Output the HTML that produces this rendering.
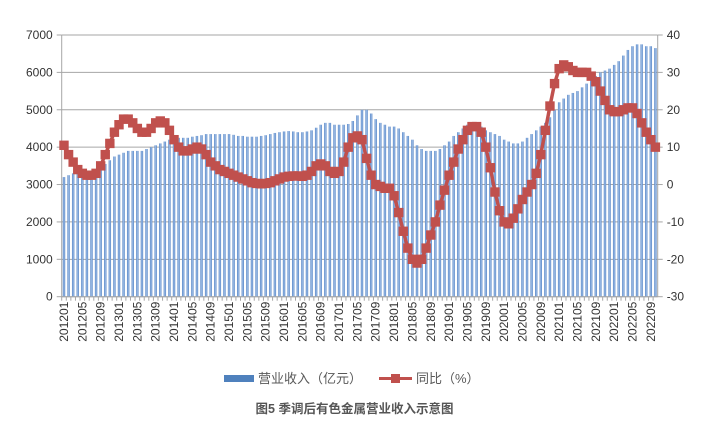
<!DOCTYPE html>
<html><head><meta charset="utf-8"><style>
body{margin:0;background:#fff;}
svg{display:block;font-family:"Liberation Sans","Noto Sans CJK SC",sans-serif;}
</style></head><body>
<svg id="c" width="701" height="428" viewBox="0 0 701 428"></svg>
<script>
const revenue=[3200,3250,3300,3300,3300,3350,3350,3400,3450,3550,3650,3750,
3800,3850,3900,3900,3900,3900,3950,4000,4050,4100,4150,4200,
4250,4250,4250,4250,4280,4300,4320,4350,4350,4350,4350,4350,
4350,4330,4300,4300,4280,4280,4280,4300,4320,4350,4380,4400,
4420,4430,4420,4400,4400,4420,4450,4520,4600,4650,4650,4600,
4600,4600,4620,4700,4850,5000,5000,4900,4750,4650,4600,4550,
4550,4500,4400,4300,4200,4050,3950,3900,3900,3900,3950,4050,
4150,4300,4400,4500,4600,4600,4600,4550,4450,4400,4350,4300,
4200,4150,4100,4100,4150,4250,4350,4450,4550,4650,4800,5000,
5200,5300,5400,5450,5500,5600,5700,5800,5900,6000,6050,6100,
6200,6300,6450,6600,6700,6750,6750,6700,6700,6650];
const yoy=[10.5,8,6,4,3,2.5,2.5,3,5,8,11,14,
16,17.5,17.5,16.5,15,14,14,15,16.5,17,16.5,14.5,
12,10,9,9,9.5,10,9.5,8,6,5,4,3.5,
3,2.5,2,1.5,1,0.5,0.3,0.2,0.3,0.5,1,1.5,
2,2.2,2.3,2.3,2.2,2.5,3.5,5,5.5,5,3.5,3,
3.5,6,10,12.5,13,12,7,2.5,0,-0.5,-1,-1,
-3,-7.5,-12.5,-17,-20,-21,-20,-17,-13.5,-10,-5.5,-1.5,
2.5,6,9.5,12,14.5,15.5,15.5,14,10,4.5,-2,-7,
-10,-10.5,-9,-6.5,-4,-2,0,3,8,14.5,21,27,
31,32,31.5,30.5,30,30,30,29,27.5,25,22.5,20,
19.5,19.5,20,20.5,20.5,19,16.5,14,12,10];
const leftTicks=[0,1000,2000,3000,4000,5000,6000,7000];
const rightTicks=[-30,-20,-10,0,10,20,30,40];
const months=[];
for(let y=2012;y<=2022;y++)for(let m=1;m<=12;m++)months.push(y+String(m).padStart(2,'0'));
const cats=months.slice(0,revenue.length);

const NS="http://www.w3.org/2000/svg";
const svg=document.getElementById('c');
const L=61.7,R=657.7,T=35,B=296.7;
const slot=(R-L)/cats.length;
const xc=i=>L+slot*(i+0.5);
const yL=v=>B-(v-0)/7000*(B-T);
const yR=v=>B-(v+30)/70*(B-T);
function el(tag,attrs,parent){const e=document.createElementNS(NS,tag);for(const k in attrs)e.setAttribute(k,attrs[k]);(parent||svg).appendChild(e);return e;}

const defs=el('defs',{});
const g=el('linearGradient',{id:'bg',x1:0,x2:1,y1:0,y2:0},defs);
el('stop',{offset:'0','stop-color':'#4a7cc0'},g);
el('stop',{offset:'0.5','stop-color':'#a4c2ea'},g);
el('stop',{offset:'1','stop-color':'#4a7cc0'},g);

const grid=el('g',{});


leftTicks.forEach(v=>{
  el('line',{x1:L,x2:R,y1:yL(v),y2:yL(v),stroke:'#a6a6a6','stroke-width':1},grid);
});
const yl=el('g',{});


leftTicks.forEach(v=>{
  const t=el('text',{x:L-9,y:yL(v)+4,'text-anchor':'end','font-size':12,fill:'#333'},yl);t.textContent=v;
  el('line',{x1:L-5,x2:L,y1:yL(v),y2:yL(v),stroke:'#a6a6a6'},yl);
});
const yr=el('g',{});


rightTicks.forEach(v=>{
  const t=el('text',{x:R+9,y:yR(v)+4,'text-anchor':'start','font-size':12,fill:'#333'},yr);t.textContent=v;
  el('line',{x1:R,x2:R+5,y1:yR(v),y2:yR(v),stroke:'#a6a6a6'},yr);
});
el('line',{x1:L,x2:L,y1:T,y2:B,stroke:'#a6a6a6'});
el('line',{x1:R,x2:R,y1:T,y2:B,stroke:'#a6a6a6'});

const bars=el('g',{});


revenue.forEach((v,i)=>{
  const r=el('rect',{x:xc(i)-1.2,y:yL(v),width:2.4,height:B-yL(v),fill:'url(#bg)'},bars);
  
  
});
el('line',{x1:L,x2:R,y1:B,y2:B,stroke:'#a6a6a6'});

const xa=el('g',{});


cats.forEach((c,i)=>{
  el('line',{x1:xc(i)-slot/2,x2:xc(i)-slot/2,y1:B,y2:B+4,stroke:'#a6a6a6'},xa);
  if(i%4===0){
    const t=el('text',{x:0,y:0,'font-size':12,fill:'#333','text-anchor':'end',transform:`translate(${xc(i)+4},${B+5}) rotate(-90)`},xa);
    t.textContent=c;
  }
});

const lg=el('g',{});


el('polyline',{points:yoy.map((v,i)=>xc(i)+','+yR(v)).join(' '),fill:'none',stroke:'#c0504d','stroke-width':3.5},lg);
yoy.forEach((v,i)=>{
  const m=el('rect',{x:xc(i)-4.7,y:yR(v)-4.7,width:9.4,height:9.4,fill:'#c0504d'},lg);
  
  
});

const leg=el('g',{});


const l1=el('rect',{x:224,y:375,width:30,height:7,fill:'#4f81bd'},leg);


const t1=el('text',{x:258,y:383,'font-size':13,fill:'#595959'},leg);t1.textContent='营业收入（亿元）';
el('line',{x1:379,x2:412,y1:378.5,y2:378.5,stroke:'#c0504d','stroke-width':3},leg);
el('rect',{x:391,y:374,width:9,height:9,fill:'#c0504d'},leg);
const t2=el('text',{x:416,y:383,'font-size':13,fill:'#595959'},leg);t2.textContent='同比（%）';

const cap=el('text',{x:354.5,y:413,'text-anchor':'middle','font-size':12.5,'font-weight':'bold',fill:'#555'});


cap.setAttribute('xml:space','preserve');
cap.textContent='图5  季调后有色金属营业收入示意图';
</script>
</body></html>
